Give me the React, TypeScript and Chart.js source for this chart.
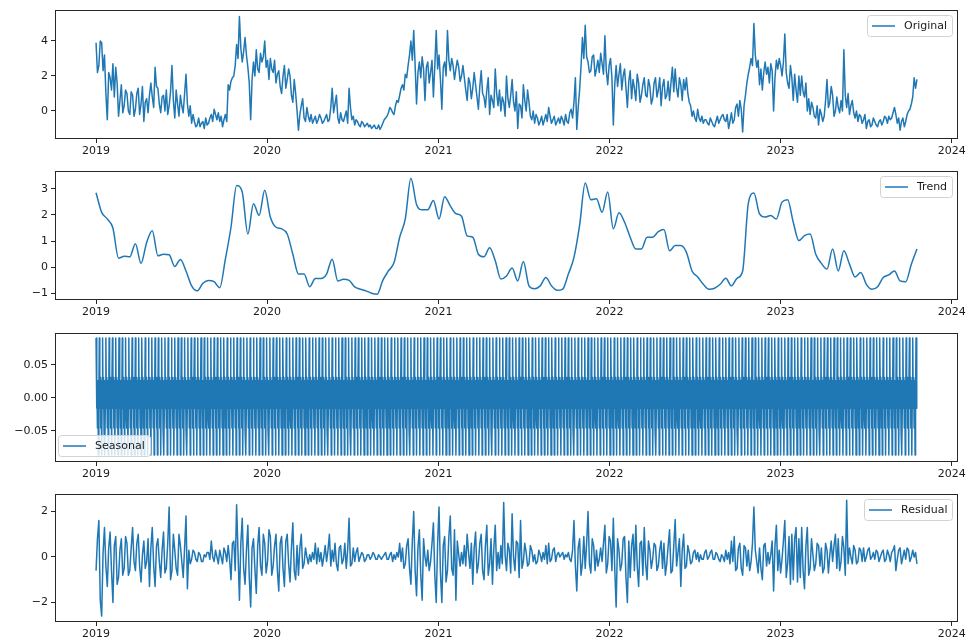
import React, { useEffect, useRef } from "react";
import { Chart, registerables } from "chart.js";

Chart.register(...registerables);

// ---------- data ----------
const sampleStepDays = 3; // original & residual: one reading every 3 days from 2019-01-01
const trendStepDays = 12; // trend: one reading every 12 days from 2019-01-01
const seriesLengthDays = 1753; // 2019-01-01 .. 2023-10-19

const originalValues = [
  3.9, 2.2, 2.6, 4.0, 3.9, 2.3, 3.2, 1.0, -0.5, 2.2, 1.9, 1.2, 2.7, 0.8, 2.5, 1.6, -0.3, 0.6, 1.5, -0.1,
  0.3, 1.2, 1.0, 0.0, -0.2, 1.1, 0.9, -0.3, 0.1, 1.0, 1.3, -0.2, 0.4, 1.4, -0.6, 0.5, 0.7, -0.1, 0.9, 1.6,
  0.8, 0.2, 2.5, 1.4, 1.3, 0.4, -0.1, 0.8, 0.9, 0.0, 1.2, -0.2, 0.3, 1.1, 2.6, 0.6, -0.4, 1.2, 0.4, -0.3,
  0.9, 0.3, -0.1, 1.0, 2.1, 0.4, -0.3, 0.3, -0.7, -0.2, -0.6, -0.9, -0.8, -0.4, -0.9, -0.7, -0.6, -1.0, -0.4, -0.8,
  -0.7, -0.4, -0.2, -0.6, 0.1, -0.2, -0.5, -0.1, -0.6, -0.3, -0.9, -0.5, -0.2, -0.6, 1.5, 1.2, 1.7, 1.9, 2.0, 2.6,
  3.8, 3.0, 5.4, 3.6, 2.8, 3.4, 4.2, 3.2, 2.5, 1.6, -0.5, 1.8, 2.8, 2.0, 3.5, 2.4, 2.2, 3.3, 2.8, 3.1,
  4.0, 2.5, 2.9, 1.8, 3.0, 2.4, 2.2, 2.9, 1.6, 2.1, 2.3, 1.4, 1.0, 2.0, 2.6, 1.3, 1.8, 2.4, 2.0, 0.9,
  0.5, 1.8, 1.0, 0.0, -1.1, -0.2, 0.3, 0.7, -0.4, -0.6, 0.2, -0.3, -0.6, -0.2, -0.7, -0.5, -0.3, -0.7, -0.5, -0.2,
  -0.4, -0.7, -0.6, -0.4, -0.2, -0.6, -0.5, 0.2, 1.3, -0.1, 0.4, 0.9, -0.4, -0.7, -0.1, -0.5, -0.6, -0.3, 0.0, -0.7,
  1.3, 0.2, -0.5, -0.3, -0.8, -0.5, -0.6, -0.8, -0.9, -0.6, -0.7, -0.9, -0.8, -0.7, -0.9, -0.8, -1.0, -0.9, -0.8, -1.0,
  -1.0, -0.8, -1.05, -0.9, -0.7, -0.5, -0.4, -0.3, -0.1, 0.2, 0.1, -0.1, -0.2, 0.3, 0.6, 0.5, 0.9, 1.3, 1.5, 1.2,
  2.1, 1.9, 2.6, 3.2, 4.0, 2.9, 4.6, 2.6, 0.4, 2.2, 2.8, 1.9, 3.1, 2.4, 0.6, 2.5, 2.8, 1.6, 2.2, 2.9,
  0.8, 2.6, 4.6, 2.4, 3.2, 1.8, 0.1, 2.5, 2.8, 2.0, 4.6, 2.9, 2.3, 3.0, 2.6, 1.8, 2.4, 2.9, 2.5, 1.7,
  2.0, 2.6, 1.9, 1.2, 0.6, 1.9, 1.6, 0.7, 1.3, 2.2, 1.5, 0.8, 0.1, 1.4, 2.3, 1.0, 0.8, 0.2, 1.2, 1.9,
  -0.2, 0.9, 0.6, 0.2, 2.4, 1.0, 0.3, 1.2, 0.0, 0.8, 0.5, -0.3, 2.0, 0.7, 0.2, 0.9, 1.8, 0.5, 0.0, 1.1,
  -1.0, 0.4, 0.3, -0.4, 1.5, 0.6, 0.0, 1.2, 0.5, -0.3, -0.5, 0.0, -0.7, -0.2, -0.4, -0.8, -0.6, -0.3, -0.8, -0.5,
  -0.2, -0.6, 0.2, -0.3, -0.7, -0.5, -0.3, -0.8, -0.6, -0.4, -0.7, -0.3, -0.5, -0.8, -0.2, -0.6, -0.7, -0.1, 0.1, -0.4,
  0.5, 1.9, -1.05, 0.2, 1.2, 2.5, 4.2, 3.0, 4.9, 3.1, 2.8, 2.2, 2.3, 3.1, 3.2, 2.0, 2.4, 2.9, 2.2, 3.3,
  2.7, 2.1, 4.3, 2.3, 1.5, 2.6, 3.0, 1.9, -0.8, 1.5, 2.6, 1.4, 2.1, 2.7, 1.2, 2.0, 2.4, 1.3, 0.2, 1.7,
  2.3, 0.7, 1.8, 1.3, 0.6, 2.1, 1.6, 0.5, 0.9, 1.5, 1.9, 0.9, 0.8, 1.8, 1.4, 0.4, 0.7, 1.6, 1.9, 0.8,
  1.2, 1.9, 0.3, 1.4, 1.8, 0.7, 0.9, 1.7, 0.6, 1.6, 2.5, 1.1, 2.4, 1.3, 0.8, 1.9, 1.5, 0.6, 1.8, 1.2,
  1.9, 1.0, 0.5, 0.3, -0.3, 0.0, -0.4, -0.6, 0.1, -0.4, -0.6, -0.3, -0.7, -0.5, -0.5, -0.7, -0.8, -0.4, -0.6, -0.8,
  -0.9, -0.6, -0.3, -0.7, -0.5, -0.3, -0.2, -0.5, -0.6, -0.2, -1.0, -0.6, -0.1, -0.7, -0.5, 0.2, 0.4, -0.3, 0.6, 0.1,
  -1.2, 0.3, 0.9, 1.6, 2.1, 2.5, 3.0, 2.6, 5.0, 3.2, 2.5, 2.9, 1.5, 2.4, 1.2, 2.2, 2.8, 2.1, 2.5, 1.6,
  2.7, 2.3, 0.0, 1.9, 2.9, 2.4, 3.0, 2.6, 2.0, 2.8, 4.4, 2.2, 1.6, 1.3, 2.6, 1.9, 0.6, 2.1, 1.2, 0.5,
  2.0, 0.9, 2.0, 1.1, 0.8, 1.6, 0.0, 0.7, -0.2, 0.5, 0.2, -0.3, -0.4, 0.3, -0.8, 0.1, -0.2, -0.6, -0.3, 0.6,
  1.8, 0.2, 0.5, 1.4, 0.9, -0.3, 0.0, 0.8, 0.2, -0.1, 0.6, 0.0, 3.5, 0.9, 0.2, 1.0, -0.2, 0.3, 0.6, -0.1,
  -0.4, 0.0, -0.6, -0.2, -0.3, -0.7, -0.5, -0.2, -1.0, -0.6, -0.5, -0.9, -0.8, -0.4, -0.6, -0.8, -0.9, -0.6, -0.5, -0.8,
  -0.6, -0.3, -0.4, -0.7, -0.3, -0.5, -0.4, -0.1, 0.2, -0.2, -0.7, -0.4, -1.1, -0.6, -0.4, -0.9, -0.6, -0.2, 0.0, 0.1,
  0.4, 0.8, 1.9, 1.3, 1.8,
];

const trendValues = [
  2.85, 2.1, 1.85, 1.5, 0.35, 0.42, 0.4, 0.9, 0.15, 0.95,
  1.4, 0.44, 0.5, 0.48, 0.03, 0.3, -0.14, -0.71, -0.9, -0.61,
  -0.5, -0.55, -0.78, 0.31, 1.53, 3.13, 2.88, 1.27, 2.43, 1.98,
  2.94, 1.92, 1.53, 1.47, 1.27, 0.5, -0.26, -0.26, -0.74, -0.43,
  -0.43, -0.26, 0.31, -0.52, -0.46, -0.5, -0.75, -0.84, -0.9, -0.99,
  -1.03, -0.5, -0.14, 0.18, 1.15, 1.85, 3.4, 2.4, 2.2, 2.2,
  2.55, 1.85, 2.7, 2.35, 2.05, 1.95, 1.2, 1.15, 0.5, 0.4,
  0.75, 0.25, -0.45, -0.33, -0.03, -0.52, 0.22, -0.71, -0.82, -0.71,
  -0.39, -0.71, -0.88, -0.83, -0.26, 0.38, 1.6, 3.22, 2.58, 2.62,
  2.1, 2.88, 1.47, 2.08, 1.72, 1.15, 0.7, 0.7, 1.15, 1.15,
  1.36, 1.44, 0.63, 0.83, 0.83, 0.57, -0.14, -0.37, -0.65, -0.84,
  -0.8, -0.65, -0.42, -0.71, -0.42, -0.14, 2.43, 2.84, 2.04, 1.92,
  1.98, 1.85, 2.49, 2.58, 1.72, 1.02, 1.21, 1.27, 0.5, 0.15,
  -0.07, 0.7, -0.14, 0.63, 0.12, -0.37, -0.2, -0.65, -0.84, -0.74,
  -0.39, -0.29, -0.14, -0.52, -0.55, 0.12, 0.7,
];

// weekly seasonal component (one value per weekday, starting 2019-01-01)
const seasonalPattern = [0.091, -0.016, 0.031, -0.046, 0.026, -0.087, 0.001];

const residualValues = [
  -0.6, 0.8, 1.6, -1.9, -2.6, 0.2, 1.3, -0.4, -1.3, 0.4, 1.1, -0.6, -2.0, 0.5, 0.9, -1.2, -0.9, 0.3, 0.8, -0.8,
  -0.5, 0.9, 0.6, -0.8, -0.6, 0.4, 1.3, -0.2, -0.6, 0.6, 1.0, -0.4, -1.1, 0.1, 0.7, -0.5, -0.2, 0.8, -1.3, 0.4,
  1.3, -0.4, -1.3, 0.5, 0.8, -0.2, -0.9, 0.3, 1.1, -0.7, -0.5, 0.6, 2.2, -1.0, -0.6, 1.0, 0.3, -0.5, -0.8, 1.0,
  0.5, -0.2, -0.9, 0.4, 1.8, -1.4, 0.3, -0.3, -0.1, 0.3, 0.2, -0.1, -0.2, 0.2, 0.1, -0.2, -0.2, 0.1, 0.0, 0.2,
  0.2, -0.1, 0.7, 0.0, -0.2, 0.3, 0.0, -0.3, 0.3, 0.0, -0.3, 0.4, 0.2, -0.2, 0.5, -0.1, -1.0, 0.6, 0.7, -0.6,
  2.3, 0.2, -1.9, 0.6, 1.7, -0.5, -1.2, 0.3, 1.4, -0.9, -2.2, 0.4, 0.8, -0.5, -1.6, 0.5, 1.3, -0.4, -0.8, 1.0,
  0.6, -0.7, -0.2, 1.2, 0.9, -0.8, -0.4, 0.5, 1.0, -0.6, -1.5, 0.6, 0.9, -0.5, -1.3, 0.7, 1.0, -0.3, -1.1, 0.4,
  1.5, -0.6, -1.0, 0.5, -0.8, 0.4, 1.0, -0.5, -0.3, 0.4, 0.0, -0.3, 0.1, -0.2, 0.2, -0.1, 0.6, -0.3, 0.4, -0.2,
  0.2, -0.4, 0.0, 0.5, -0.2, 0.3, 1.0, -0.4, 0.3, -0.2, 0.6, -0.3, -0.6, 0.4, 0.5, -0.3, -0.1, 0.6, -0.5, 0.3,
  1.7, -0.4, -0.3, 0.4, -0.2, 0.2, 0.4, -0.2, 0.0, 0.2, 0.1, -0.2, -0.1, 0.1, 0.1, -0.1, 0.0, 0.2, 0.1, -0.1,
  -0.1, 0.1, 0.0, -0.1, 0.0, 0.1, 0.2, -0.1, -0.1, 0.1, 0.2, -0.2, 0.1, -0.1, 0.2, 0.0, 0.6, -0.2, 0.4, -0.5,
  -0.3, 0.5, 0.8, -0.5, -1.2, 0.7, 2.0, -0.6, -1.7, 0.4, 1.2, -0.8, -1.9, 0.8, 0.0, -0.4, 0.3, -0.6, -0.2, 0.6,
  1.5, -0.8, -2.0, 0.6, 2.2, -0.7, -2.0, 0.5, 0.9, -1.1, -0.6, 0.9, 1.8, -0.5, -0.8, 1.2, -1.9, 0.7, 0.1, -0.4,
  0.2, -0.3, 0.5, -0.4, 1.0, 0.2, -0.5, 0.6, -1.2, 0.4, 1.1, -0.7, -0.3, 0.6, 1.0, -0.6, -1.0, 0.5, 1.4, -0.8,
  -0.3, 0.8, -1.2, 0.4, 1.4, -0.6, 0.2, -0.5, 0.5, -0.3, 2.4, 0.1, -0.6, 0.6, 0.3, -0.7, 1.9, 0.0, -0.6, 0.7,
  0.6, -0.9, 1.6, -0.5, -0.2, 0.6, 0.2, -0.4, -0.3, 0.5, 0.3, -0.2, 0.1, -0.3, -0.2, 0.3, 0.1, -0.2, 0.2, -0.1,
  0.5, -0.3, 0.6, -0.2, -0.1, 0.3, 0.4, -0.2, 0.1, 0.2, 0.0, 0.1, 0.2, -0.1, 0.1, 0.0, 0.2, -0.1, -0.2, 0.3,
  1.6, -0.4, -1.5, 0.4, 0.8, -0.8, -0.3, 0.9, -0.5, 0.6, 2.0, -0.3, -0.7, 0.8, 0.5, -0.6, 0.3, -0.4, -0.1, 0.4,
  -0.2, 0.6, 1.4, -0.7, -0.3, 0.9, 0.7, -0.6, 1.7, -0.5, -2.2, 0.8, 0.3, -0.6, -0.3, 0.8, 0.9, -0.9, -2.0, 0.7,
  -0.9, 0.5, 1.0, -0.6, 1.4, -0.4, -1.3, 0.6, 0.7, -0.8, 1.3, -0.3, -1.0, 0.7, 0.3, -0.5, -0.1, 0.6, 0.5, -0.6,
  -0.4, 0.3, 0.7, -0.5, 0.6, -0.8, -0.3, 0.5, 1.2, -0.7, -0.6, 0.5, 1.65, -0.4, 0.2, 0.8, -1.3, 0.3, 1.0, -0.5,
  -0.4, 0.5, 0.2, -0.3, -0.2, 0.2, 0.3, -0.1, 0.2, -0.2, 0.1, -0.1, -0.1, 0.2, 0.3, -0.1, 0.0, 0.2, 0.3, -0.1,
  -0.1, 0.2, 0.1, -0.1, -0.2, 0.1, 0.0, -0.2, 0.3, -0.1, 0.2, -0.3, 0.7, -0.2, 0.9, -0.6, -0.5, 0.4, 0.6, -0.5,
  -0.8, 0.5, 0.4, -0.4, 0.3, -0.6, -0.2, 0.6, 2.2, 0.3, -0.2, -0.7, 0.4, -0.5, -1.0, 0.5, 0.6, -0.4, 0.2, -0.3,
  0.1, 0.7, -1.5, 0.5, 1.4, -0.6, 0.3, -0.7, -0.1, 0.7, 1.6, -0.9, -0.3, 0.9, -1.2, 1.0, -1.0, 0.8, 1.3, -1.1,
  0.8, -0.9, 1.3, -0.6, -1.4, 0.5, 1.3, -0.8, -0.5, 0.8, 0.1, -0.6, -0.3, 0.6, 0.5, -0.4, 0.4, -0.7, -0.5, 0.6,
  0.3, -0.7, 0.1, 0.7, -0.2, 0.5, 1.0, -0.5, 0.8, -0.6, -0.2, 0.9, 0.4, -0.8, 2.5, -0.3, 0.4, 0.0, -0.3, 0.5,
  0.3, -0.3, -0.2, 0.4, 0.3, -0.2, 0.4, -0.2, 0.0, 0.3, 0.4, -0.1, 0.0, 0.2, -0.1, 0.3, 0.2, -0.2, 0.0, 0.2,
  0.3, -0.2, -0.1, 0.3, 0.1, -0.2, 0.2, 0.3, 0.5, -0.6, -0.1, 0.3, 0.4, -0.3, 0.0, 0.3, -0.1, 0.4, 0.3, -0.2,
  0.0, 0.3, 0.0, 0.2, -0.3,
];

// x axis: days since 2019-01-01; year ticks
const yearTickDays = [0, 365, 731, 1096, 1461, 1826];
const yearTickLabels = ["2019", "2020", "2021", "2022", "2023", "2024"];

const originalTicks = [0, 2, 4];
const originalTickLabels = ["0", "2", "4"];
const trendTicks = [-1, 0, 1, 2, 3];
const trendTickLabels = ["\u22121", "0", "1", "2", "3"];
const seasonalTicks = [-0.05, 0, 0.05];
const seasonalTickLabels = ["\u22120.05", "0.00", "0.05"];
const residualTicks = [-2, 0, 2];
const residualTickLabels = ["\u22122", "0", "2"];

// ---------- styling ----------
const BLUE = "#1f77b4";
const AXIS_COLOR = "#262626";
const TEXT_COLOR = "#1a1a1a";
const FONT_FAMILY = '"DejaVu Sans", sans-serif';
const FONT_SIZE = 11;
const X_MIN = -0.05 * (seriesLengthDays - 1);
const X_MAX = (seriesLengthDays - 1) * 1.05;
const CHART_LEFT = 55;
const CHART_RIGHT_PAD = 12;
const TOP_PAD = 10;
const XAXIS_H = 22;

type Pt = { x: number; y: number };

const toPoints = (vals: number[], step: number): Pt[] =>
  vals.map((v, i) => ({ x: i * step, y: v }));

const seasonalPoints: Pt[] = Array.from({ length: seriesLengthDays }, (_, d) => ({
  x: d,
  y: seasonalPattern[d % seasonalPattern.length],
}));

type PanelSpec = {
  label: string;
  data: Pt[];
  top: number;
  bottom: number;
  yMin: number;
  yMax: number;
  yTicks: number[];
  yLabels: string[];
  legendPos: "tr" | "bl";
  smooth: boolean;
  lineWidth: number;
};

const panels: PanelSpec[] = [
  {
    label: "Original",
    data: toPoints(originalValues, sampleStepDays),
    top: 10,
    bottom: 139,
    yMin: -1.6,
    yMax: 5.77,
    yTicks: originalTicks,
    yLabels: originalTickLabels,
    legendPos: "tr",
    smooth: false,
    lineWidth: 1.5,
  },
  {
    label: "Trend",
    data: toPoints(trendValues, trendStepDays),
    top: 171,
    bottom: 300,
    yMin: -1.25,
    yMax: 3.68,
    yTicks: trendTicks,
    yLabels: trendTickLabels,
    legendPos: "tr",
    smooth: true,
    lineWidth: 1.5,
  },
  {
    label: "Seasonal",
    data: seasonalPoints,
    top: 333,
    bottom: 462,
    yMin: -0.0975,
    yMax: 0.0985,
    yTicks: seasonalTicks,
    yLabels: seasonalTickLabels,
    legendPos: "bl",
    smooth: false,
    lineWidth: 1.5,
  },
  {
    label: "Residual",
    data: toPoints(residualValues, sampleStepDays),
    top: 494,
    bottom: 622,
    yMin: -2.86,
    yMax: 2.77,
    yTicks: residualTicks,
    yLabels: residualTickLabels,
    legendPos: "tr",
    smooth: false,
    lineWidth: 1.5,
  },
];

const framePlugin = {
  id: "frameBox",
  afterDatasetsDraw(chart: any) {
    const { ctx, chartArea: a } = chart;
    ctx.save();
    ctx.strokeStyle = AXIS_COLOR;
    ctx.lineWidth = 1;
    ctx.strokeRect(
      Math.round(a.left) + 0.5,
      Math.round(a.top) + 0.5,
      Math.round(a.right - a.left) - 1,
      Math.round(a.bottom - a.top) - 1
    );
    ctx.restore();
  },
};

const legendBoxPlugin = {
  id: "legendBox",
  afterDraw(chart: any, _args: any, opts: any) {
    const { ctx, chartArea: a } = chart;
    const label: string = opts.label;
    ctx.save();
    ctx.font = `${FONT_SIZE}px ${FONT_FAMILY}`;
    const tw = ctx.measureText(label).width;
    const w = Math.round(tw + 42);
    const h = 21;
    let x: number, y: number;
    if (opts.pos === "bl") {
      x = Math.round(a.left + 3);
      y = Math.round(a.bottom - 6 - h);
    } else {
      x = Math.round(a.right - 6 - w);
      y = Math.round(a.top + 5);
    }
    ctx.beginPath();
    if ((ctx as any).roundRect) (ctx as any).roundRect(x + 0.5, y + 0.5, w, h, 3);
    else ctx.rect(x + 0.5, y + 0.5, w, h);
    ctx.fillStyle = "rgba(255,255,255,0.8)";
    ctx.fill();
    ctx.strokeStyle = "#d2d2d2";
    ctx.lineWidth = 1;
    ctx.stroke();
    const cy = y + h / 2 + 0.5;
    ctx.beginPath();
    ctx.moveTo(x + 5, cy);
    ctx.lineTo(x + 28, cy);
    ctx.strokeStyle = BLUE;
    ctx.lineWidth = 1.5;
    ctx.stroke();
    ctx.fillStyle = TEXT_COLOR;
    ctx.textBaseline = "middle";
    ctx.textAlign = "left";
    ctx.fillText(label, x + 37, cy + 0.5);
    ctx.restore();
  },
};

function Panel({ spec }: { spec: PanelSpec }) {
  const ref = useRef<HTMLCanvasElement | null>(null);
  const canvasTop = spec.top - TOP_PAD;
  const canvasH = spec.bottom - spec.top + TOP_PAD + XAXIS_H;

  useEffect(() => {
    if (!ref.current) return;
    const font = { family: FONT_FAMILY, size: FONT_SIZE };
    const chart = new Chart(ref.current, {
      type: "line",
      data: {
        datasets: [
          {
            data: spec.data,
            borderColor: BLUE,
            borderWidth: spec.lineWidth,
            pointRadius: 0,
            tension: spec.smooth ? 0.4 : 0,
            cubicInterpolationMode: spec.smooth ? "monotone" : "default",
            borderJoinStyle: "round",
            fill: false,
          },
        ],
      },
      options: {
        animation: false,
        responsive: false,
        maintainAspectRatio: false,
        events: [],
        layout: {
          autoPadding: false,
          padding: { top: TOP_PAD, right: CHART_RIGHT_PAD, left: 0, bottom: 0 },
        },
        plugins: {
          legend: { display: false },
          tooltip: { enabled: false },
          legendBox: { label: spec.label, pos: spec.legendPos },
        } as any,
        scales: {
          x: {
            type: "linear",
            min: X_MIN,
            max: X_MAX,
            afterFit: (s: any) => {
              s.height = XAXIS_H;
            },
            afterBuildTicks: (s: any) => {
              s.ticks = yearTickDays.map((v) => ({ value: v }));
            },
            ticks: {
              autoSkip: false,
              maxRotation: 0,
              padding: 2,
              color: TEXT_COLOR,
              font,
              callback: (v: any) => {
                const k = yearTickDays.indexOf(Number(v));
                return k >= 0 ? yearTickLabels[k] : "";
              },
            },
            grid: {
              drawOnChartArea: false,
              drawTicks: true,
              tickLength: 4,
              color: AXIS_COLOR,
            },
            border: { display: false },
          },
          y: {
            type: "linear",
            min: spec.yMin,
            max: spec.yMax,
            afterFit: (s: any) => {
              s.width = CHART_LEFT;
            },
            afterBuildTicks: (s: any) => {
              s.ticks = spec.yTicks.map((v) => ({ value: v }));
            },
            ticks: {
              autoSkip: false,
              padding: 3,
              color: TEXT_COLOR,
              font,
              callback: (v: any) => {
                const k = spec.yTicks.findIndex((t) => Math.abs(t - Number(v)) < 1e-9);
                return k >= 0 ? spec.yLabels[k] : "";
              },
            },
            grid: {
              drawOnChartArea: false,
              drawTicks: true,
              tickLength: 4,
              color: AXIS_COLOR,
            },
            border: { display: false },
          },
        },
      } as any,
      plugins: [framePlugin, legendBoxPlugin],
    });
    return () => chart.destroy();
  }, [spec]);

  return (
    <canvas
      ref={ref}
      width={970}
      height={canvasH}
      style={{
        position: "absolute",
        left: 0,
        top: canvasTop,
        width: 970,
        height: canvasH,
      }}
    />
  );
}

export default function App() {
  return (
    <div
      style={{
        position: "fixed",
        left: 0,
        top: 0,
        width: 970,
        height: 644,
        background: "#ffffff",
        overflow: "hidden",
      }}
    >
      {panels.map((p) => (
        <Panel key={p.label} spec={p} />
      ))}
    </div>
  );
}
